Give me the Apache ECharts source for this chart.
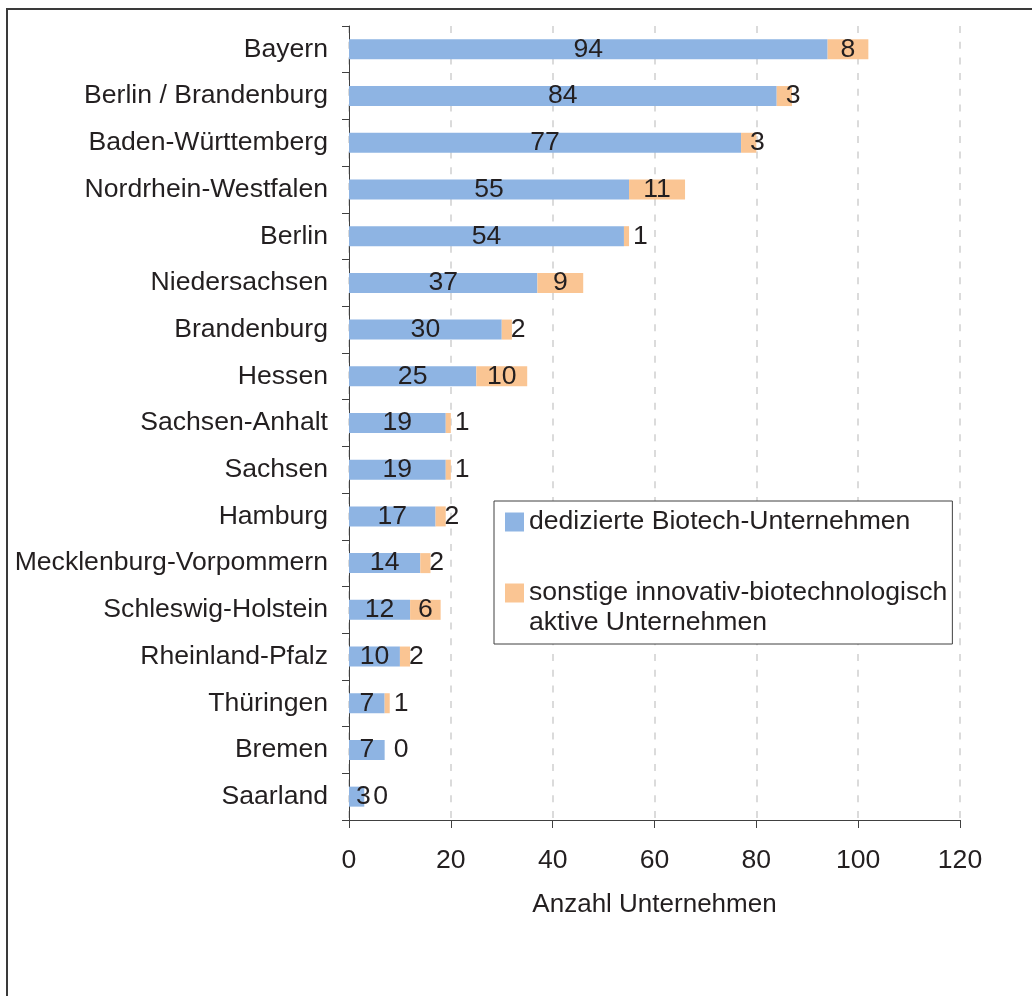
<!DOCTYPE html>
<html>
<head>
<meta charset="utf-8">
<script src="https://cdn.jsdelivr.net/npm/echarts@6/dist/echarts.min.js"></script>
<style>
html,body{margin:0;padding:0;background:#fff;}
#chart{width:1032px;height:996px;}
</style>
</head>
<body>
<div id="chart"></div>
<script>
var categories = ["Bayern","Berlin / Brandenburg","Baden-Württemberg","Nordrhein-Westfalen","Berlin","Niedersachsen","Brandenburg","Hessen","Sachsen-Anhalt","Sachsen","Hamburg","Mecklenburg-Vorpommern","Schleswig-Holstein","Rheinland-Pfalz","Thüringen","Bremen","Saarland"];
var dedicated = [94,84,77,55,54,37,30,25,19,19,17,14,12,10,7,7,3];
var other = [8,3,3,11,1,9,2,10,1,1,2,2,6,2,1,0,0];
var xTicks = [0,20,40,60,80,100,120];
var seriesNames = ["dedizierte Biotech-Unternehmen","sonstige innovativ-biotechnologisch\naktive Unternehmen"];

var FONT = "Liberation Sans";
var FS = 26.6;
var TXT = "#231f20";

function items(arr, smallDist){
  return arr.map(function(v){
    if (v <= 3) {
      return {value: v, label: {position: "insideLeft", distance: smallDist}};
    }
    return {value: v};
  });
}

var chart = echarts.init(document.getElementById("chart"), null, {renderer: "canvas"});
chart.setOption({
  animation: false,
  backgroundColor: "#fff",
  graphic: [{
    type: "rect",
    shape: {x: 7, y: 9, width: 1200, height: 1200},
    style: {fill: "none", stroke: "#3a3a3a", lineWidth: 2},
    silent: true, z: -1
  }],
  grid: {left: 349, right: 72, top: 26, bottom: 176, containLabel: false},
  legend: {
    orient: "vertical",
    left: 494, top: 501,
    padding: [6, 5, 6, 11],
    itemGap: 11,
    itemWidth: 19, itemHeight: 19,
    borderColor: "#404040", borderWidth: 1,
    icon: "rect",
    backgroundColor: "#fff",
    formatter: function(name){
      return name.indexOf("\n") >= 0 ? "\n" + name : name;
    },
    textStyle: {fontFamily: FONT, fontSize: FS, color: TXT, lineHeight: 30},
    data: seriesNames
  },
  xAxis: {
    type: "value",
    min: 0, max: 120, interval: 20,
    name: "Anzahl Unternehmen",
    nameLocation: "middle",
    nameGap: 72,
    nameTextStyle: {fontFamily: FONT, fontSize: 26, color: TXT},
    axisLine: {show: true, lineStyle: {color: "#404040", width: 1}},
    axisTick: {show: true, length: 8, lineStyle: {color: "#404040"}},
    axisLabel: {
      margin: 27, fontFamily: FONT, fontSize: FS, color: TXT,
      formatter: function(v){ return xTicks.indexOf(v) >= 0 ? String(v) : ""; }
    },
    splitLine: {show: true, lineStyle: {color: "#cfcfcf", type: [7, 8.7], width: 1.5}}
  },
  yAxis: {
    type: "category",
    inverse: true,
    data: categories,
    axisLine: {show: true, lineStyle: {color: "#404040", width: 1}},
    axisTick: {show: true, length: 7, interval: 0, alignWithLabel: false, lineStyle: {color: "#404040"}},
    axisLabel: {margin: 21, fontFamily: FONT, fontSize: FS, color: TXT, interval: 0},
    splitLine: {show: false}
  },
  series: [
    {
      name: seriesNames[0],
      type: "bar",
      stack: "total",
      barWidth: 20,
      itemStyle: {color: "#8eb4e3"},
      label: {show: true, position: "inside", fontFamily: FONT, fontSize: FS, color: TXT},
      data: items(dedicated, 7)
    },
    {
      name: seriesNames[1],
      type: "bar",
      stack: "total",
      barWidth: 20,
      itemStyle: {color: "#fac593"},
      label: {show: true, position: "inside", fontFamily: FONT, fontSize: FS, color: TXT},
      data: items(other, 9)
    }
  ]
});
</script>
</body>
</html>
